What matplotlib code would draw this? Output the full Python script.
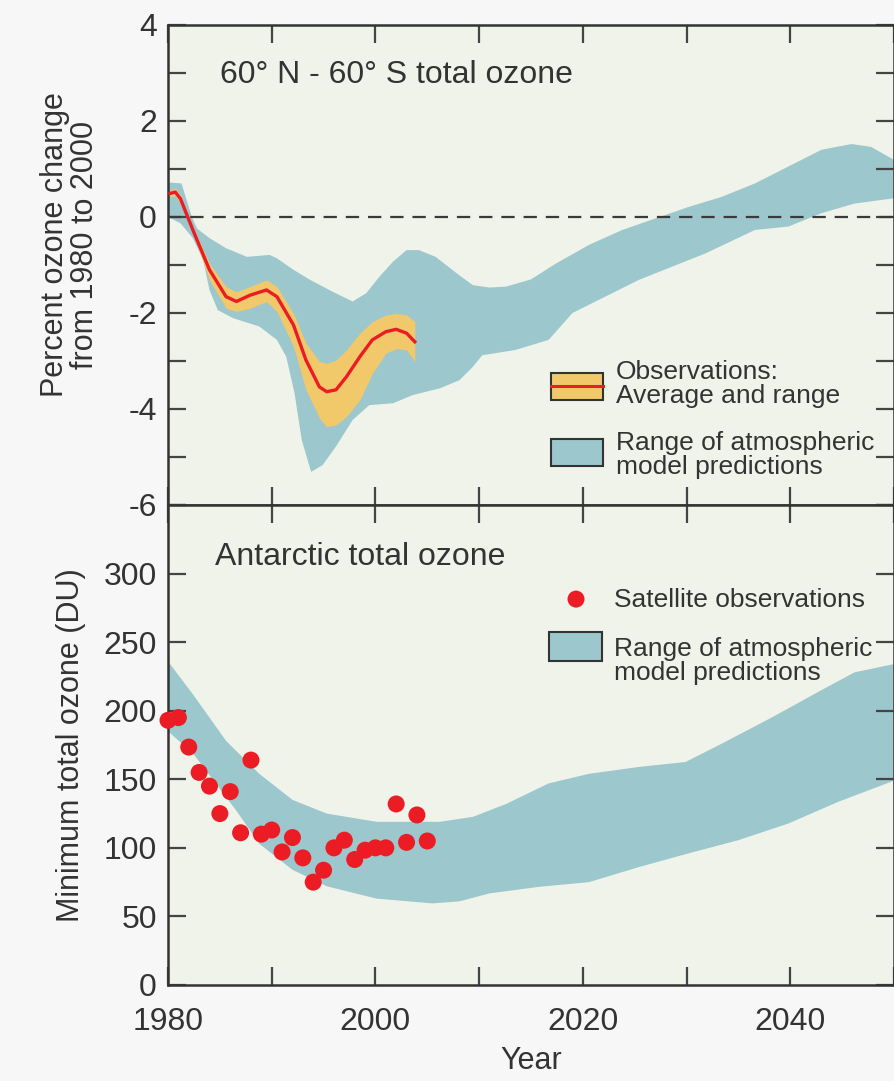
import matplotlib
matplotlib.use("Agg")
import matplotlib.pyplot as plt
from matplotlib.patches import Rectangle
from matplotlib.lines import Line2D
from matplotlib.ticker import MultipleLocator, FuncFormatter
import numpy as np

plt.rcParams['font.family'] = ['Liberation Sans', 'DejaVu Sans']

# ---------------- data: top panel (60N-60S total ozone, % change) -------------
model_top_upper_year = [1980.0, 1981.3, 1981.8, 1982.3, 1982.8, 1984.0, 1985.6, 1987.6, 1989.8, 1990.5,
                        1992.1, 1993.7, 1995.9, 1997.8, 1999.1, 2000.4, 2001.7, 2003.0, 2004.2, 2005.8,
                        2008.0, 2009.4, 2011.0, 2012.6, 2015.0, 2017.4, 2020.6, 2023.8, 2027.0, 2030.2,
                        2033.4, 2036.6, 2039.8, 2043.0, 2045.9, 2047.8, 2050.0]
model_top_upper = [0.72, 0.70, 0.35, 0.00, -0.24, -0.44, -0.65, -0.83, -0.79, -0.86,
                   -1.10, -1.31, -1.56, -1.76, -1.59, -1.24, -0.93, -0.69, -0.69, -0.83,
                   -1.20, -1.42, -1.47, -1.45, -1.30, -0.97, -0.58, -0.27, -0.03, 0.21,
                   0.42, 0.70, 1.05, 1.40, 1.52, 1.46, 1.19]
model_top_lower_year = [1980.0, 1981.2, 1982.4, 1983.4, 1984.0, 1984.8, 1986.3, 1988.8, 1990.5, 1991.4,
                        1992.2, 1992.9, 1993.8, 1994.9, 1996.2, 1997.8, 1999.4, 2001.7, 2003.6, 2006.2,
                        2008.1, 2009.4, 2010.3, 2013.5, 2016.7, 2019.0, 2021.5, 2025.4, 2031.8, 2036.6,
                        2039.8, 2043.0, 2046.2, 2050.0]
model_top_lower = [0.00, -0.13, -0.44, -0.90, -1.52, -1.94, -2.11, -2.28, -2.56, -2.91,
                   -3.67, -4.65, -5.31, -5.17, -4.78, -4.23, -3.92, -3.88, -3.71, -3.57,
                   -3.40, -3.12, -2.88, -2.77, -2.56, -2.00, -1.73, -1.31, -0.76, -0.27,
                   -0.20, 0.08, 0.28, 0.39]

obs_year = [1980.2, 1980.7, 1981.2, 1982.4, 1984.0, 1985.6, 1986.6, 1987.9, 1989.5, 1990.5,
            1992.1, 1993.3, 1994.6, 1995.3, 1996.2, 1997.2, 1998.5, 1999.7, 2001.0, 2002.0,
            2003.0, 2003.8]
obs_upper = [0.56, 0.60, 0.45, -0.20, -0.97, -1.45, -1.56, -1.45, -1.31, -1.45,
             -2.01, -2.63, -3.01, -3.05, -2.98, -2.77, -2.42, -2.18, -2.04, -2.01,
             -2.04, -2.18]
obs_avg = [0.49, 0.52, 0.38, -0.27, -1.10, -1.66, -1.76, -1.63, -1.52, -1.66,
           -2.25, -2.98, -3.54, -3.64, -3.60, -3.33, -2.91, -2.56, -2.39, -2.34,
           -2.42, -2.60]
obs_lower = [0.42, 0.44, 0.28, -0.34, -1.31, -1.90, -1.97, -1.90, -1.76, -1.97,
             -2.70, -3.60, -4.19, -4.37, -4.33, -4.16, -3.81, -3.26, -2.84, -2.74,
             -2.77, -3.01]

# ---------------- data: bottom panel (Antarctic minimum total ozone, DU) -------
model_bot_upper_year = [1980.0, 1982.4, 1985.6, 1988.8, 1992.0, 1995.3, 2000.1, 2006.2, 2009.4, 2012.6,
                        2016.7, 2020.6, 2025.4, 2029.9, 2033.4, 2038.2, 2043.0, 2046.2, 2050.0]
model_bot_upper = [236, 212, 178, 154, 135, 125, 119, 119, 122.6, 132,
                   147, 154, 159, 162.6, 176, 195, 215, 228, 234]
model_bot_lower_year = [1980.0, 1982.4, 1986.6, 1988.8, 1992.0, 1995.3, 2000.1, 2005.5, 2008.1, 2011.0,
                        2015.8, 2020.6, 2025.4, 2030.2, 2035.0, 2039.8, 2044.6, 2050.0]
model_bot_lower = [185, 169, 127, 103, 84, 72, 63, 59.5, 61, 66.8,
                   71.6, 75, 86, 96, 105.6, 117.7, 133.5, 149]

sat_year = [1980, 1981, 1982, 1983, 1984, 1985, 1986, 1987, 1988, 1989,
            1990, 1991, 1992, 1993, 1994, 1995, 1996, 1997, 1998, 1999,
            2000, 2001, 2002, 2003, 2004, 2005]
sat_ozone = [193, 195, 173.5, 155, 145, 125, 141, 111, 164, 110,
             113, 97, 107.5, 92.7, 75, 83.7, 100, 105.6, 91.5, 98.3,
             100, 100, 132, 104, 124, 105]

x_tick_labels = ['1980', '2000', '2020', '2040']

# ---------------- styling -----------------------------------------------------
FIG_BG = '#f7f7f7'
AX_BG = '#f0f3ea'
TEAL = '#9cc7cd'
ORANGE = '#f1c96a'
RED = '#ec1c24'
TXT = '#333333'
SPINE = '#333333'

fig = plt.figure(figsize=(8.95, 10.81), dpi=100, facecolor=FIG_BG)
ax1 = fig.add_axes([168/895, 1 - 505/1081, 726/895, 480/1081])
ax2 = fig.add_axes([168/895, 1 - 985/1081, 726/895, 480/1081])

for ax in (ax1, ax2):
    ax.set_facecolor(AX_BG)
    ax.set_xlim(1980, 2050)
    ax.xaxis.set_major_locator(MultipleLocator(10))
    for s in ax.spines.values():
        s.set_color(SPINE)
        s.set_linewidth(1.8)
    ax.tick_params(axis='both', which='both', direction='in', top=True, right=True,
                   length=13, width=1.6, color='#444444', labelsize=23, labelcolor=TXT)

# ---- top panel ----
ax1.set_ylim(-6, 4)
ax1.yaxis.set_major_locator(MultipleLocator(1))
ax1.yaxis.set_major_formatter(FuncFormatter(lambda v, p: f'{int(round(v))}' if int(round(v)) % 2 == 0 else ''))
ax1.tick_params(axis='x', labelbottom=False)
ax1.tick_params(axis='y', pad=8)

ax1.fill(np.concatenate([model_top_upper_year, model_top_lower_year[::-1]]),
         np.concatenate([model_top_upper, model_top_lower[::-1]]),
         color=TEAL, lw=0, zorder=1)
ax1.axhline(0, color='#3a3a3a', lw=1.6, ls=(0, (6, 4)), zorder=2)
ax1.fill_between(obs_year, obs_lower, obs_upper, color=ORANGE, lw=0, zorder=3)
ax1.plot(obs_year, obs_avg, color=RED, lw=2.4, zorder=4)

ax1.text(220/895, 1 - 75/1081, '60° N - 60° S total ozone', transform=fig.transFigure,
         fontsize=23, color=TXT, ha='left', va='center')

# legend (top)
ax1.add_patch(Rectangle((0.5275, 0.219), 0.0715, 0.056, transform=ax1.transAxes,
                        facecolor=ORANGE, edgecolor='#333333', lw=1.5, zorder=5))
ax1.add_line(Line2D([0.5275, 0.599], [0.247, 0.247], transform=ax1.transAxes,
                    color=RED, lw=2.2, zorder=6))
ax1.text(0.617, 0.253, 'Observations:\nAverage and range', transform=ax1.transAxes,
         fontsize=19, color=TXT, ha='left', va='center', linespacing=1.0)
ax1.add_patch(Rectangle((0.5275, 0.081), 0.0715, 0.056, transform=ax1.transAxes,
                        facecolor=TEAL, edgecolor='#333333', lw=1.5, zorder=5))
ax1.text(0.617, 0.104, 'Range of atmospheric\nmodel predictions', transform=ax1.transAxes,
         fontsize=19, color=TXT, ha='left', va='center', linespacing=1.0)

fig.text(70/895, 1 - 245/1081, 'Percent ozone change\nfrom 1980 to 2000', rotation=90,
         ha='center', va='center', fontsize=22, color=TXT, linespacing=1.0)

# ---- bottom panel ----
ax2.set_ylim(0, 350)
ax2.yaxis.set_major_locator(MultipleLocator(50))
ax2.yaxis.set_major_formatter(FuncFormatter(lambda v, p: f'{int(v)}' if v <= 300 else ''))
ax2.xaxis.set_major_formatter(FuncFormatter(
    lambda v, p: x_tick_labels[int(round((v - 1980) / 20))] if (int(round(v)) - 1980) % 20 == 0 and v < 2050 else ''))
ax2.tick_params(axis='y', pad=8)
ax2.tick_params(axis='x', pad=16)

ax2.fill(np.concatenate([model_bot_upper_year, model_bot_lower_year[::-1]]),
         np.concatenate([model_bot_upper, model_bot_lower[::-1]]),
         color=TEAL, lw=0, zorder=1)
ax2.scatter(sat_year, sat_ozone, s=150, color=RED, edgecolor='none', zorder=4, clip_on=False)

ax2.text(215/895, 1 - 557/1081, 'Antarctic total ozone', transform=fig.transFigure,
         fontsize=23, color=TXT, ha='left', va='center')

# legend (bottom)
ax2.scatter([0.562], [0.804], s=150, color=RED, edgecolor='none', transform=ax2.transAxes, zorder=5)
ax2.text(0.614, 0.802, 'Satellite observations', transform=ax2.transAxes,
         fontsize=19, color=TXT, ha='left', va='center')
ax2.add_patch(Rectangle((0.525, 0.675), 0.073, 0.060, transform=ax2.transAxes,
                        facecolor=TEAL, edgecolor='#333333', lw=1.5, zorder=5))
ax2.text(0.614, 0.676, 'Range of atmospheric\nmodel predictions', transform=ax2.transAxes,
         fontsize=19, color=TXT, ha='left', va='center', linespacing=1.0)

fig.text(71/895, 1 - 745/1081, 'Minimum total ozone (DU)', rotation=90,
         ha='center', va='center', fontsize=22, color=TXT)

ax2.set_xlabel('Year', fontsize=22, color=TXT, labelpad=6)

fig.savefig('out.png', dpi=100, facecolor=FIG_BG)
